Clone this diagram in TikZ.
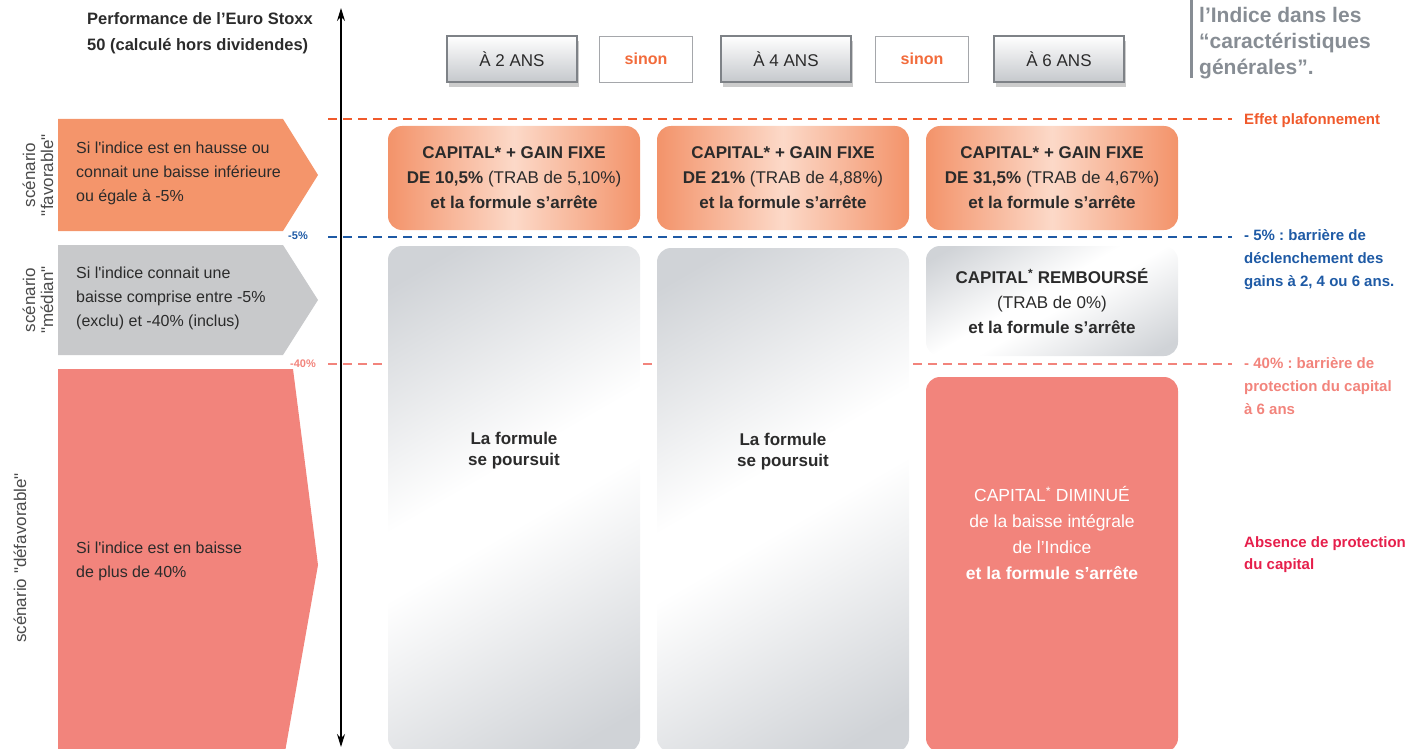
\documentclass[tikz,border=0pt]{standalone}
\usepackage{fontspec}
\setmainfont{Liberation Sans}[Ligatures=TeXOff]
\usetikzlibrary{arrows.meta,shadows}
\frenchspacing

\definecolor{ink}{HTML}{2B2B2B}
\definecolor{favfill}{HTML}{F4956B}
\definecolor{medfill}{HTML}{C8C9CB}
\definecolor{loss}{HTML}{F2847C}
\definecolor{capred}{HTML}{F05A2C}
\definecolor{barblue}{HTML}{1E5AA5}
\definecolor{crimson}{HTML}{E61F4B}
\definecolor{notegray}{HTML}{878D94}
\definecolor{edgegray}{HTML}{7E8287}
\definecolor{boxgray}{HTML}{C5C8CC}
\definecolor{gainedge}{HTML}{F3936A}
\definecolor{gainlight}{HTML}{FCD9C8}
\definecolor{tallgray}{HTML}{D0D3D7}
\definecolor{sinon}{HTML}{F26B3B}

\pgfdeclareverticalshading{sheen}{100bp}{color(0bp)=(tallgray); color(20bp)=(tallgray);
    color(47bp)=(white); color(54bp)=(white); color(80bp)=(tallgray); color(100bp)=(tallgray)}

\begin{document}
\begin{tikzpicture}[x = 1pt, y = -1pt,
    every node/.style = {inner sep = 0pt, align = center, text = ink},
    arrowtext/.style = {anchor = west, align = left, font = \fontsize{16}{24}\selectfont},
    scenario/.style = {rotate = 90, font = \fontsize{17}{18}\selectfont, text = ink!85},
    yearbox/.style = {draw = edgegray, line width = 1.2pt, minimum width = 130pt, minimum height = 46pt,
        top color = white, bottom color = boxgray, font = \fontsize{17}{18}\selectfont,
        drop shadow = {shadow xshift = 2pt, shadow yshift = -5pt, opacity = .4}},
    sinonbox/.style = {draw = edgegray!70, line width = .8pt, fill = white, minimum width = 93pt,
        minimum height = 46pt, text = sinon, font = \bfseries\fontsize{16}{18}\selectfont},
    gainbox/.style = {rounded corners = 14pt, minimum width = 252pt, minimum height = 104pt,
        left color = gainedge, right color = gainedge, middle color = gainlight,
        font = \fontsize{17}{25}\selectfont},
    tallbox/.style = {rounded corners = 14pt, minimum width = 252pt, shading = sheen, shading angle = 30},
    lossbox/.style = {rounded corners = 14pt, fill = loss, minimum width = 252pt},
    note/.style = {anchor = west, align = left, font = \bfseries\fontsize{15}{23}\selectfont},
    level/.style = {line width = 2.5pt, dash pattern = on 9pt off 6pt}]

    \useasboundingbox (0,0) rectangle (1419,749);

    % titles
    \node (title) at (87,33) [anchor = west, align = left, font = \bfseries\fontsize{16.5}{26}\selectfont]
        {Performance de l’Euro Stoxx\\50 (calculé hors dividendes)};
    \coordinate (rule-top) at (1191,0);
    \coordinate (rule-bot) at (1191,78);
    \draw[notegray, line width = 3pt] (rule-top) -- (rule-bot);
    \node (defs) at (1199,43) [anchor = west, align = left, text = notegray,
        font = \bfseries\fontsize{21}{26}\selectfont] {l’Indice dans les\\“caractéristiques\\générales”.};

    % dates
    \node[yearbox] (an2) at (512,59) {À 2 ANS};
    \node[sinonbox] (sinon1) at (646,59) {sinon};
    \node[yearbox] (an4) at (786,59) {À 4 ANS};
    \node[sinonbox] (sinon2) at (922,59) {sinon};
    \node[yearbox] (an6) at (1059,59) {À 6 ANS};

    % barrier levels
    \coordinate (cap-w) at (328,119);   \coordinate (cap-e) at (1232,119);
    \coordinate (trig-w) at (328,237);  \coordinate (trig-e) at (1232,237);
    \coordinate (prot-w) at (328,364);  \coordinate (prot-e) at (1232,364);
    \draw[level, capred] (cap-w) -- (cap-e);
    \draw[level, barblue] (trig-w) -- (trig-e);
    \draw[level, loss] (prot-w) -- (prot-e);
    \node (m5) at (298,236) [text = barblue, font = \bfseries\fontsize{11}{12}\selectfont] {-5\%};
    \node (m40) at (303,364) [text = loss, font = \bfseries\fontsize{11}{12}\selectfont] {-40\%};

    % scenarios
    \fill[favfill] (58,119) -- (283,119) -- (318,175) -- (283,231) -- (58,231) -- cycle;
    \fill[medfill] (58,245) -- (283,245) -- (318,300) -- (283,355) -- (58,355) -- cycle;
    \fill[loss] (58,369) -- (293,369) -- (318,565) -- (285,752) -- (58,752) -- cycle;
    \node[arrowtext] (fav) at (76,173) {Si l'indice est en hausse ou\\connait une baisse inférieure\\ou égale à -5\%};
    \node[arrowtext] (med) at (76,298) {Si l'indice connait une\\baisse comprise entre -5\%\\(exclu) et -40\% (inclus)};
    \node[arrowtext] (defav) at (76,561) {Si l'indice est en baisse\\de plus de 40\%};
    \node[scenario] (tag-fav) at (38,175) {scénario\\"favorable"};
    \node[scenario] (tag-med) at (38,300) {scénario\\"médian"};
    \node[scenario] (tag-defav) at (20,558) {scénario "défavorable"};

    % axis
    \coordinate (axis-top) at (341,8);
    \coordinate (axis-bot) at (341,747);
    \draw[line width = 1.3pt, {Stealth[length = 13pt, width = 8pt]}-{Stealth[length = 13pt, width = 8pt]}]
        (axis-top) -- (axis-bot);

    % outcomes
    \node[gainbox] (gain2) at (514,178) {\textbf{CAPITAL* + GAIN FIXE}\\\textbf{DE 10,5\%} (TRAB de 5,10\%)\\\textbf{et la formule s’arrête}};
    \node[gainbox] (gain4) at (783,178) {\textbf{CAPITAL* + GAIN FIXE}\\\textbf{DE 21\%} (TRAB de 4,88\%)\\\textbf{et la formule s’arrête}};
    \node[gainbox] (gain6) at (1052,178) {\textbf{CAPITAL* + GAIN FIXE}\\\textbf{DE 31,5\%} (TRAB de 4,67\%)\\\textbf{et la formule s’arrête}};
    \node[tallbox, minimum height = 506pt] (cont2) at (514,499) {};
    \node[tallbox, minimum height = 504pt] (cont4) at (783,500) {};
    \node (cont2-txt) at (514,451) [font = \bfseries\fontsize{17}{21}\selectfont] {La formule\\se poursuit};
    \node (cont4-txt) at (783,452) [font = \bfseries\fontsize{17}{21}\selectfont] {La formule\\se poursuit};
    \node[tallbox, minimum height = 110pt, font = \fontsize{17}{25}\selectfont] (remb) at (1052,301)
        {\textbf{CAPITAL\textsuperscript{*} REMBOURSÉ}\\(TRAB de 0\%)\\\textbf{et la formule s’arrête}};
    \node[lossbox, minimum height = 375pt] (perte) at (1052,564.5) {};
    \node (perte-txt) at (1052,533) [text = white, font = \fontsize{17.5}{26}\selectfont]
        {CAPITAL\textsuperscript{*} DIMINUÉ\\de la baisse intégrale\\de l’Indice\\\textbf{et la formule s’arrête}};

    % notes
    \node[note, text = capred] (n-cap) at (1244,121) {Effet plafonnement};
    \node[note, text = barblue] (n-trig) at (1244,260) {- 5\% : barrière de\\déclenchement des\\gains à 2, 4 ou 6 ans.};
    \node[note, text = loss] (n-prot) at (1244,386) {- 40\% : barrière de\\protection du capital\\à 6 ans};
    \node[note, text = crimson, font = \bfseries\fontsize{15}{22}\selectfont] (n-loss) at (1244,555) {Absence de protection\\du capital};
\end{tikzpicture}
\end{document}
